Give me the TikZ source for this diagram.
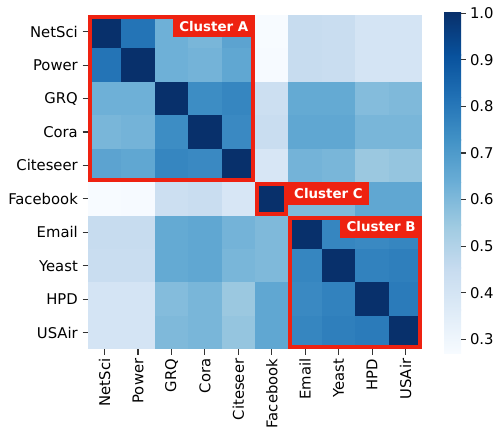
\documentclass[tikz,border=0pt]{standalone}
\usepackage{fontspec}
\setmainfont{DejaVu Sans}
\usepackage{tikz}
\usetikzlibrary{calc}

% Blues colour map
\definecolor{bl0}{RGB}{247,251,255}
\definecolor{bl1}{RGB}{222,235,247}
\definecolor{bl2}{RGB}{198,219,239}
\definecolor{bl3}{RGB}{158,202,225}
\definecolor{bl4}{RGB}{107,174,214}
\definecolor{bl5}{RGB}{66,146,198}
\definecolor{bl6}{RGB}{33,113,181}
\definecolor{bl7}{RGB}{8,81,156}
\definecolor{bl8}{RGB}{8,48,107}
\definecolor{clusterred}{RGB}{238,34,17}

\newcommand{\setCellColor}[1]{%
  \pgfmathsetmacro\cpos{max(0,min(7.999,(#1-0.271)/0.729*8))}%
  \pgfmathtruncatemacro\cellLo{floor(\cpos)}%
  \pgfmathtruncatemacro\cellHi{\cellLo+1}%
  \pgfmathsetmacro\cellMix{(\cpos-\cellLo)*100}%
  \colorlet{cellc}{bl\cellHi!\cellMix!bl\cellLo}%
}
\newcommand{\tikzClusterBox}[4]{
  \draw[clusterline] ({87.9+#1*33.43+2},{15+#2*33.43+2}) rectangle ({87.9+#3*33.43-2},{15+#4*33.43-2});
}

\begin{document}
\begin{tikzpicture}[x=1pt,y=-1pt,
  ticklabel/.style={inner sep=0pt,font=\fontsize{14.8}{17}\selectfont},
  tickmark/.style={line width=1.1pt,black!80},
  clusterline/.style={draw=clusterred,line width=4pt},
  clusterlabel/.style={fill=clusterred,text=white,inner xsep=6.5pt,inner ysep=0pt,
    minimum height=22.3pt,font=\bfseries\fontsize{13.4}{15}\selectfont}]

  \useasboundingbox (0,0) rectangle (497,427);

  % heat map cells
  \foreach \vals [count=\r from 0] in {
    {1.00,0.81,0.63,0.61,0.67,0.271,0.45,0.44,0.40,0.40},
    {0.81,1.00,0.63,0.62,0.66,0.275,0.45,0.44,0.40,0.40},
    {0.63,0.63,1.00,0.74,0.76,0.43,0.65,0.65,0.59,0.60},
    {0.61,0.62,0.74,1.00,0.75,0.44,0.66,0.66,0.61,0.61},
    {0.67,0.66,0.76,0.75,1.00,0.39,0.62,0.61,0.55,0.56},
    {0.271,0.275,0.43,0.44,0.39,1.00,0.60,0.60,0.66,0.66},
    {0.45,0.45,0.65,0.66,0.62,0.60,1.00,0.76,0.75,0.76},
    {0.44,0.44,0.65,0.66,0.61,0.60,0.76,1.00,0.77,0.78},
    {0.40,0.40,0.59,0.61,0.55,0.66,0.75,0.77,1.00,0.79},
    {0.40,0.40,0.60,0.61,0.56,0.66,0.76,0.78,0.79,1.00}} {
    \foreach \v [count=\c from 0] in \vals {
      \setCellColor{\v}
      \fill[cellc] ({87.9+\c*33.43},{15+\r*33.43}) rectangle ++(33.43,33.43);
    }
  }

  % axis labels
  \foreach \n [count=\i from 0] in {NetSci,Power,GRQ,Cora,Citeseer,Facebook,Email,Yeast,HPD,USAir} {
    \pgfmathsetmacro\rmid{15+(\i+0.5)*33.43}
    \pgfmathsetmacro\cmid{87.9+(\i+0.5)*33.43}
    \draw[tickmark] (82.5,\rmid) -- (87.9,\rmid);
    \node[ticklabel,anchor=east] (row\n) at (78,\rmid) {\n};
    \draw[tickmark] (\cmid,349.3) -- (\cmid,355);
    \node[ticklabel,anchor=east,rotate=90] (col\n) at (\cmid,358.5) {\n};
  }

  % clusters
  \tikzClusterBox{0}{0}{5}{5}
  \tikzClusterBox{5}{5}{6}{6}
  \tikzClusterBox{6}{6}{10}{10}
  \node[clusterlabel,anchor=north east] (labelA) at (255.05,15) {Cluster A};
  \node[clusterlabel,anchor=north west] (labelC) at (287.5,182.2) {Cluster C};
  \node[clusterlabel,anchor=north east] (labelB) at (422.2,215.6) {Cluster B};

  % colour bar
  \foreach \k [evaluate=\k as \kn using int(\k+1)] in {0,...,7} {
    \shade[bottom color=bl\k,top color=bl\kn] (444,{352.8-\k*42.54+0.3}) rectangle (461,{352.8-(\k+1)*42.54-0.3});
  }
  \foreach \t [count=\i] in {0.3,0.4,0.5,0.6,0.7,0.8,0.9,1.0} {
    \pgfmathsetmacro\ty{13.3+(1-\t)*465.7}
    \draw[tickmark] (461,\ty) -- (465.5,\ty);
    \node[ticklabel,anchor=west] (bar\i) at (469.8,\ty) {\t};
  }
\end{tikzpicture}
\end{document}
